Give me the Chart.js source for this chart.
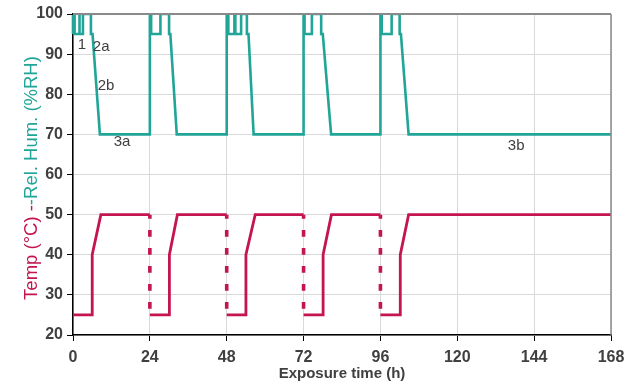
<!DOCTYPE html>
<html>
<head>
<meta charset="utf-8">
<script src="https://cdn.jsdelivr.net/npm/chart.js@4"></script>
<style>
  html, body { margin: 0; padding: 0; background: #fff; }
  #wrap { width: 628px; height: 383px; }
</style>
</head>
<body>
<div id="wrap"><canvas id="chart" width="628" height="383"></canvas></div>
<script>
// humidity curve (%RH)
const humHours = [0, 0, 0.5, 0.5, 1.9, 1.9, 2.1, 2.1, 3.1, 3.1, 5.6, 5.6, 6.1, 8.4,
  24, 24, 24.4, 24.4, 27.3, 27.3, 30.0, 30.0, 30.4, 32.4,
  48, 48, 48.5, 48.5, 50.4, 50.4, 50.7, 50.7, 52.5, 52.5, 54.3, 54.3, 54.8, 56.4,
  72, 72, 72.3, 72.3, 74.6, 74.6, 77.5, 77.5, 78.0, 80.6,
  96, 96, 96.4, 96.4, 99.5, 99.5, 102.0, 102.0, 102.4, 104.8, 168];
const humValues = [95, 100, 100, 95, 95, 100, 100, 95, 95, 100, 100, 95, 95, 70,
  70, 100, 100, 95, 95, 100, 100, 95, 95, 70,
  70, 100, 100, 95, 95, 100, 100, 95, 95, 100, 100, 95, 95, 70,
  70, 100, 100, 95, 95, 100, 100, 95, 95, 70,
  70, 100, 100, 95, 95, 100, 100, 95, 95, 70, 70];

// temperature curve (°C)
const tempHours = [0, 6.0, 6.0, 8.7, 24, 24, 30.1, 30.1, 32.6, 48, 48, 54.0, 54.0, 56.9,
  72, 72, 78.1, 78.1, 80.7, 96, 96, 102.2, 102.2, 104.8, 168];
const tempValues = [25, 25, 40, 50, 50, 25, 25, 40, 50, 50, 25, 25, 40, 50,
  50, 25, 25, 40, 50, 50, 25, 25, 40, 50, 50];

const xTicks = [0, 24, 48, 72, 96, 120, 144, 168];
const yTicks = [20, 30, 40, 50, 60, 70, 80, 90, 100];

// phase labels
const noteText = ["1", "2a", "2b", "3a", "3b"];
const noteHours = [2.8, 8.8, 10.3, 15.3, 138.4];
const noteValues = [92.3, 91.8, 82.2, 68.1, 67.1];

const TEAL = "#20a598";
const CRIMSON = "#c4154f";

function toPoints(xs, ys) {
  return xs.map((x, i) => ({ x: x, y: ys[i] }));
}

// the temperature drops are drawn dotted
function isDrop(ctx) {
  const a = ctx.p0.parsed, b = ctx.p1.parsed;
  return a.x === b.x && b.y < a.y;
}

const extras = {
  id: "extras",
  afterDatasetsDraw(chart) {
    const c = chart.ctx;
    const area = chart.chartArea;
    const xs = chart.scales.x, ys = chart.scales.y;
    c.save();
    // top and right frame
    c.strokeStyle = "#8a8a8a";
    c.lineWidth = 2;
    c.beginPath();
    c.moveTo(area.left, area.top);
    c.lineTo(area.right, area.top);
    c.stroke();
    c.lineWidth = 1.5;
    c.beginPath();
    c.moveTo(area.right, area.top);
    c.lineTo(area.right, area.bottom);
    c.stroke();
    // phase labels
    c.fillStyle = "#404040";
    c.font = "15px 'Liberation Sans', Arial, sans-serif";
    c.textAlign = "center";
    c.textBaseline = "middle";
    noteText.forEach((t, i) => {
      c.fillText(t, xs.getPixelForValue(noteHours[i]), ys.getPixelForValue(noteValues[i]));
    });
    c.restore();
  },
  afterDraw(chart) {
    // two-colour y axis title
    const c = chart.ctx;
    const part1 = "Temp (°C) -";
    const part2 = "-Rel. Hum. (%RH)";
    c.save();
    c.font = "18.5px 'Liberation Sans', Arial, sans-serif";
    const w1 = c.measureText(part1).width;
    const w2 = c.measureText(part2).width;
    c.translate(32, 178);
    c.rotate(-Math.PI / 2);
    c.textBaseline = "middle";
    c.textAlign = "left";
    const start = -(w1 + w2) / 2;
    c.fillStyle = CRIMSON;
    c.fillText(part1, start, 0);
    c.fillStyle = TEAL;
    c.fillText(part2, start + w1, 0);
    c.restore();
  }
};

new Chart(document.getElementById("chart"), {
  type: "line",
  data: {
    datasets: [
      {
        label: "Rel. Hum.",
        data: toPoints(humHours, humValues),
        borderColor: TEAL,
        borderWidth: 2.6,
        pointRadius: 0,
        tension: 0,
        borderJoinStyle: "miter",
        clip: { left: 2, top: -1, right: 0, bottom: 0 }
      },
      {
        label: "Temp",
        data: toPoints(tempHours, tempValues),
        borderColor: CRIMSON,
        borderWidth: 2.8,
        pointRadius: 0,
        tension: 0,
        borderCapStyle: "butt",
        segment: {
          borderDash: ctx => (isDrop(ctx) ? [4, 14] : undefined),
          borderWidth: ctx => (isDrop(ctx) ? 3.6 : undefined)
        }
      }
    ]
  },
  options: {
    responsive: false,
    animation: false,
    events: [],
    layout: { padding: { top: 14, right: 17, left: 0, bottom: 0 } },
    plugins: {
      legend: { display: false },
      tooltip: { enabled: false }
    },
    scales: {
      x: {
        type: "linear",
        min: 0,
        max: 168,
        afterBuildTicks: scale => { scale.ticks = xTicks.map(v => ({ value: v })); },
        afterFit: scale => {
          scale.height = 48;
          scale.paddingLeft = 0;
          scale.paddingRight = 0;
        },
        grid: { color: "#d9d9d9", lineWidth: 1, tickLength: 6, tickColor: "#000" },
        border: { color: "#000", width: 1.5 },
        ticks: {
          color: "#404040",
          padding: 7,
          maxRotation: 0,
          font: { family: "'Liberation Sans', Arial, sans-serif", size: 16, weight: "bold" }
        },
        title: {
          display: true,
          text: "Exposure time (h)",
          color: "#404040",
          padding: { top: 0, bottom: 0 },
          font: { family: "'Liberation Sans', Arial, sans-serif", size: 15, weight: "bold" }
        }
      },
      y: {
        min: 20,
        max: 100,
        afterBuildTicks: scale => { scale.ticks = yTicks.map(v => ({ value: v })); },
        afterFit: scale => { scale.width = 73; },
        grid: { color: "#d9d9d9", lineWidth: 1, tickLength: 6, tickColor: "#000" },
        border: { color: "#000", width: 1.5 },
        ticks: {
          color: "#404040",
          padding: 4,
          font: { family: "'Liberation Sans', Arial, sans-serif", size: 16, weight: "bold" }
        }
      }
    }
  },
  plugins: [extras]
});
</script>
</body>
</html>
